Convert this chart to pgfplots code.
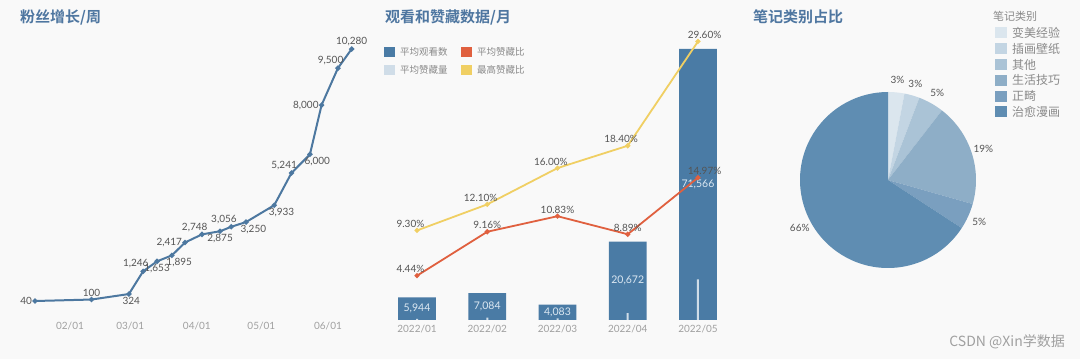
\documentclass[border=0pt]{standalone}
\usepackage{fontspec}
\setmainfont{Lato}
\newfontfamily\cjk{Noto Sans CJK SC}
\newfontfamily\cjkb{Noto Sans CJK SC Bold}
\usepackage{pgfplots}
\usepackage{pgfplotstable}
\pgfplotsset{compat=1.18}

\definecolor{bg}{HTML}{F9F9F9}
\definecolor{titleblue}{HTML}{4E76A0}
\definecolor{fanline}{HTML}{4D78A0}
\definecolor{barblue}{HTML}{4A7BA5}
\definecolor{barlight}{HTML}{D0DDE8}
\definecolor{redline}{HTML}{E0603F}
\definecolor{yelline}{HTML}{F0CF63}
\definecolor{tickgray}{HTML}{A0A0A0}
\definecolor{labgray}{HTML}{555555}
\definecolor{leggray}{HTML}{8A8A8A}
\definecolor{barlab}{HTML}{DCE8F2}
\definecolor{pieA}{HTML}{DBE6EE}
\definecolor{pieB}{HTML}{C3D5E3}
\definecolor{pieC}{HTML}{AAC3D6}
\definecolor{pieD}{HTML}{8EAEC7}
\definecolor{pieE}{HTML}{7A9FBF}
\definecolor{pieF}{HTML}{5F8DB2}

\pgfplotsset{
  /pgf/number format/assume math mode=true,
  clean/.style={scale only axis, axis line style={draw=none}, major tick length=0pt,
    ytick=\empty, clip=false,
    tick label style={font=\fontsize{10}{12}\selectfont, text=tickgray}},
}

\pgfplotstableread{
d v a
14.7 40 0
41 100 270
58.4 324 110
65 1246 315
71.5 1653 90
78.4 1895 135
84.5 2417 0
92.4 2748 315
100.8 2875 90
106 3056 315
112.9 3250 135
126 3933 135
134 5241 315
142.6 6000 135
148 8000 0
155.6 9500 315
162 10280 270
}\fans

\pgfplotstableread{
i views favs avg maxr aa am
0 5944 264 4.44 9.30 315 315
1 7084 649 9.16 12.10 270 315
2 4083 442 10.83 16.00 270 315
3 20672 1838 8.89 18.40 270 315
4 71566 10713 14.97 29.60 225 225
}\monthly

\def\pievals{3.0/pieA,2.8/pieB,4.7/pieC,18.9/pieD,4.8/pieE,65.8/pieF}

\begin{document}
\begin{tikzpicture}
\useasboundingbox (0,0) rectangle (1080pt,359pt);
\fill[bg] (0,0) rectangle (1080pt,359pt);

% titles
\node[anchor=west, inner sep=0pt, text=titleblue, font=\cjkb\fontsize{15}{18}\selectfont] at (20pt,342pt) {粉丝增长/周};
\node[anchor=west, inner sep=0pt, text=titleblue, font=\cjkb\fontsize{15}{18}\selectfont] at (385pt,342pt) {观看和赞藏数据/月};
\node[anchor=west, inner sep=0pt, text=titleblue, font=\cjkb\fontsize{15}{18}\selectfont] at (753pt,342pt) {笔记类别占比};

% ---------- panel 1: fans ----------
\begin{axis}[clean, at={(14.1pt,44.7pt)}, anchor=south west,
  width=344pt, height=283pt, xmin=5, xmax=165, ymin=-500, ymax=11000,
  xtick={31,59,90,120,151}, xticklabels={02/01,03/01,04/01,05/01,06/01},
  xticklabel style={yshift=-4pt}]
\addplot[color=fanline, line width=2pt, mark=*, mark size=1.5pt,
  mark options={fill=fanline, draw=fanline},
  point meta=explicit symbolic,
  visualization depends on={rawy \as \ry},
  nodes near coords={\pgfmathprintnumber{\ry}},
  every node near coord/.append style={anchor=\pgfplotspointmeta, inner sep=2pt, text=labgray,
    font=\fontsize{10}{12}\selectfont}]
  table[x=d, y=v, meta=a] {\fans};
\end{axis}

% ---------- panel 2: bars ----------
\begin{axis}[clean, at={(381.9pt,39pt)}, anchor=south west,
  width=351.2pt, height=280pt, xmin=-0.5, xmax=4.5, ymin=0, ymax=73943,
  xtick={0,1,2,3,4}, xticklabels={2022/01,2022/02,2022/03,2022/04,2022/05},
  xticklabel style={yshift=-1.5pt}]
\addplot[ybar, bar width=37.7pt, bar shift=0pt, fill=barblue, draw=none] table[x=i, y=views] {\monthly};
\addplot[ybar, bar width=2pt, bar shift=0pt, fill=barlight, draw=none] table[x=i, y=favs] {\monthly};
\addplot[draw=none, mark=none, point meta=explicit,
  nodes near coords={\pgfmathprintnumber{\pgfplotspointmeta}},
  every node near coord/.append style={anchor=center, text=barlab, font=\fontsize{10.5}{12}\selectfont}]
  table[x=i, y expr=\thisrow{views}/2, meta=views] {\monthly};
\end{axis}

% ---------- panel 2: ratios ----------
\begin{axis}[clean, at={(381.9pt,39pt)}, anchor=south west,
  width=351.2pt, height=280pt, xmin=-0.5, xmax=4.5, ymin=-0.32, ymax=29.76,
  xtick=\empty]
\addplot[color=yelline, line width=1.8pt, mark=*, mark size=1.5pt,
  mark options={fill=yelline, draw=yelline}, point meta=explicit symbolic,
  visualization depends on={rawy \as \ry},
  nodes near coords={\pgfmathprintnumber[fixed,fixed zerofill,precision=2]{\ry}\%},
  every node near coord/.append style={anchor=\pgfplotspointmeta, inner sep=2pt, text=labgray,
    font=\fontsize{10}{12}\selectfont}]
  table[x=i, y=maxr, meta=am] {\monthly};
\addplot[color=redline, line width=1.8pt, mark=*, mark size=1.5pt,
  mark options={fill=redline, draw=redline}, point meta=explicit symbolic,
  visualization depends on={rawy \as \ry},
  nodes near coords={\pgfmathprintnumber[fixed,fixed zerofill,precision=2]{\ry}\%},
  every node near coord/.append style={anchor=\pgfplotspointmeta, inner sep=2pt, text=labgray,
    font=\fontsize{10}{12}\selectfont}]
  table[x=i, y=avg, meta=aa] {\monthly};
\end{axis}

% legend panel 2
\fill[barblue] (384pt,302pt) rectangle (395pt,312pt);
\fill[redline] (461pt,302pt) rectangle (472pt,312pt);
\fill[barlight] (384pt,284pt) rectangle (395pt,294pt);
\fill[yelline] (461pt,284pt) rectangle (472pt,294pt);
\begin{scope}[every node/.style={anchor=west, inner sep=0pt, text=leggray, font=\cjk\fontsize{9.5}{11}\selectfont}]
\node at (400pt,307pt) {平均观看数};
\node at (477pt,307pt) {平均赞藏比};
\node at (400pt,289pt) {平均赞藏量};
\node at (477pt,289pt) {最高赞藏比};
\end{scope}

% ---------- panel 3: pie ----------
\begin{axis}[at={(800pt,91pt)}, anchor=south west, scale only axis,
  width=176pt, height=176pt, xmin=-1, xmax=1, ymin=-1, ymax=1, hide axis, clip=false]
\pgfplotsextra{
  \xdef\cum{0}
  \foreach \v/\col in \pievals {
    \pgfmathsetmacro\sa{90-3.6*\cum}
    \pgfmathsetmacro\ea{90-3.6*(\cum+\v)}
    \pgfmathsetmacro\ma{(\sa+\ea)/2}
    \fill[\col] (axis cs:0,0) -- (axis cs:{cos(\sa)},{sin(\sa)}) arc[start angle=\sa, end angle=\ea, radius=88pt] -- cycle;
    \pgfmathsetmacro\rv{round(\v)}
    \node[text=labgray, font=\fontsize{10}{12}\selectfont, inner sep=0pt] at (axis cs:{1.14*cos(\ma)},{1.14*sin(\ma)}) {\pgfmathprintnumber[fixed,precision=0]{\rv}\%};
    \pgfmathsetmacro\nc{\cum+\v}
    \xdef\cum{\nc}
  }
}
\end{axis}

% legend panel 3
\node[anchor=west, inner sep=0pt, text=leggray, font=\cjk\fontsize{11}{13}\selectfont] at (993pt,343pt) {笔记类别};
\begin{scope}[every node/.style={anchor=west, inner sep=0pt, text=leggray, font=\cjk\fontsize{12}{14}\selectfont}]
\fill[pieA] (995pt,320.5pt) rectangle (1007pt,331.5pt); \node at (1012pt,326pt) {变美经验};
\fill[pieB] (995pt,304.7pt) rectangle (1007pt,315.7pt); \node at (1012pt,310.2pt) {插画壁纸};
\fill[pieC] (995pt,288.9pt) rectangle (1007pt,299.9pt); \node at (1012pt,294.4pt) {其他};
\fill[pieD] (995pt,273.1pt) rectangle (1007pt,284.1pt); \node at (1012pt,278.6pt) {生活技巧};
\fill[pieE] (995pt,257.3pt) rectangle (1007pt,268.3pt); \node at (1012pt,262.8pt) {正畸};
\fill[pieF] (995pt,241.5pt) rectangle (1007pt,252.5pt); \node at (1012pt,247pt) {治愈漫画};
\end{scope}

% watermark
\node[anchor=east, inner sep=0pt, text=tickgray, font=\cjk\fontsize{14}{16}\selectfont] at (1065pt,17pt) {CSDN @Xin学数据};
\end{tikzpicture}
\end{document}
